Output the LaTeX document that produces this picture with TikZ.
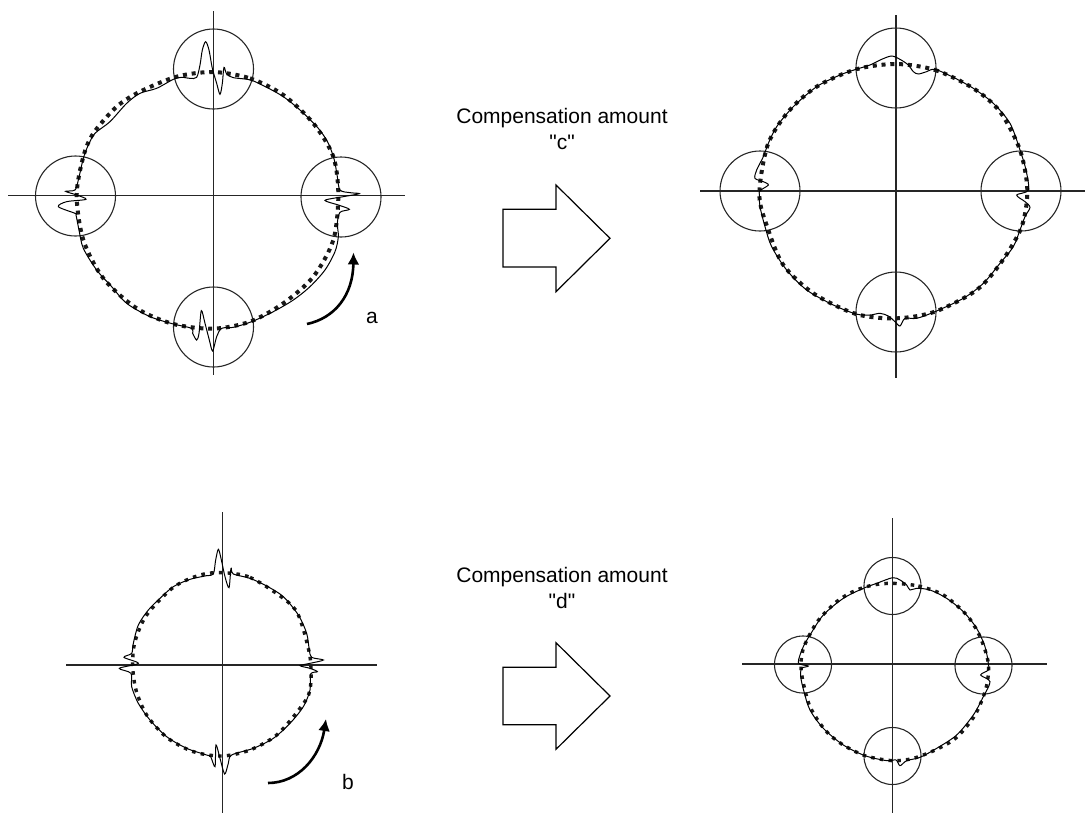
\documentclass[tikz,border=0pt]{standalone}
\usepackage{fontspec}
\newfontfamily\capfont{Liberation Sans}
\usepackage{xcolor}
\usetikzlibrary{arrows.meta}

\begin{document}
\begin{tikzpicture}[
  x=1pt, y=-1pt,
  axisline/.style={line width=1.1pt, black!85},
  lens/.style={draw=black!85, line width=1.1pt},
  refcurve/.style={line width=4pt, black!90, dash pattern=on 4pt off 4.8pt, smooth cycle},
  reflow/.style={refcurve, line width=3.4pt, dash pattern=on 3.6pt off 5.2pt},
  trace/.style={line width=1pt, black, smooth cycle},
  bigarrow/.style={draw=black, line width=1.2pt, line join=miter},
  turn/.style={-{Latex[length=12pt, width=12pt]}, line width=2.6pt, black},
  lbl/.style={font=\capfont\fontsize{21}{26.5}\selectfont, align=center, inner sep=0pt},
  zoomed/.style={x=0.33333pt, y=-0.33333pt}
]
\useasboundingbox (0,0) rectangle (1085,814);

% upper left
\draw[axisline] (8,195.5) -- (405,195.5);
\draw[axisline] (213.5,11) -- (213.5,375);
\foreach \cx/\cy in {213.5/69, 213.5/327, 75.5/196, 341/197}
  \draw[lens] (\cx,\cy) circle [radius=40];
\begin{scope}[shift={(0,0)}, zoomed]
\draw[refcurve] plot coordinates {(640,216)(750,235)(850,285)(940,370)(1000,470)(1015,586)(1000,720)(940,830)(850,910)(750,965)(640,986)(520,972)(410,925)(310,835)(250,720)(230,586)(250,470)(280,400)(350,320)(420,275)(530,230)};
\draw[trace] plot coordinates {(520,238)(545,232)(570,235)(590,232)(600,195)(607,150)(617,125)(627,150)(637,205)(650,250)(660,283)(667,250)(672,202)(680,222)(700,233)(752,240)(800,262)(850,290)(900,330)(955,385)(985,430)(1003,480)(1012,530)(1020,570)(1050,578)(1078,581)(1030,590)(975,601)(1015,615)(1048,628)(1020,637)(1012,670)(1015,710)(1005,755)(975,810)(930,860)(880,900)(820,935)(755,965)(700,982)(665,985)(650,1010)(638,1053)(628,1020)(615,970)(604,932)(597,1000)(590,1020)(578,1000)(575,985)(520,972)(450,950)(380,910)(335,860)(290,810)(250,745)(237,690)(228,645)(225,640)(175,620)(200,605)(258,598)(230,585)(197,574)(225,570)(235,540)(250,475)(265,435)(285,400)(330,365)(380,310)(420,280)(470,265)};
\end{scope}
\coordinate (astart) at (307,324);
\coordinate (aend) at (353.5,252.5);
\draw[turn] (astart) .. controls (335,318) and (353,295) .. (aend);
\node[lbl] (alabel) at (372,318) {a};

% upper right
\draw[axisline] (700,191) -- (1085,191);
\draw[axisline] (896,15) -- (896,378);
\foreach \cx/\cy in {896/68, 896/312, 760/191, 1021/191}
  \draw[lens] (\cx,\cy) circle [radius=40];
\begin{scope}[shift={(700,0)}, zoomed]
\draw[refcurve] plot coordinates {(588,192)(705,210)(820,265)(900,335)(960,450)(982,570)(965,680)(905,785)(830,870)(705,935)(588,955)(468,942)(340,880)(250,795)(205,690)(178,585)(203,435)(265,335)(350,260)(468,208)};
\draw[trace] plot coordinates {(468,208)(510,195)(545,178)(575,168)(600,178)(625,195)(640,215)(655,222)(680,215)(705,208)(760,232)(820,265)(880,310)(930,370)(960,450)(978,510)(985,570)(950,585)(975,605)(990,622)(975,650)(960,690)(940,740)(900,790)(850,850)(790,895)(705,935)(650,955)(615,955)(600,978)(585,965)(565,948)(540,940)(510,945)(468,942)(400,915)(320,870)(260,810)(215,740)(195,680)(180,620)(178,585)(180,572)(205,555)(190,545)(165,535)(170,510)(190,470)(205,430)(230,380)(280,320)(350,260)(420,225)};
\end{scope}

% lower left
\draw[axisline] (66,665) -- (377,665);
\draw[axisline] (222.5,512) -- (222.5,813);
\begin{scope}[shift={(50,500)}, zoomed]
\draw[reflow] plot coordinates {(517,218)(600,232)(700,295)(745,345)(780,470)(780,570)(750,625)(680,705)(600,750)(517,768)(430,755)(350,712)(290,645)(258,570)(248,495)(255,425)(290,345)(370,262)(450,225)};
\draw[trace] plot coordinates {(250,430)(265,375)(295,330)(330,295)(370,260)(420,238)(470,227)(490,222)(497,180)(505,148)(513,175)(525,230)(537,263)(543,205)(550,222)(600,235)(650,258)(700,290)(745,345)(770,400)(778,450)(785,472)(820,480)(780,490)(750,497)(780,505)(802,515)(782,522)(780,570)(760,620)(720,670)(670,715)(610,745)(545,765)(535,790)(524,822)(510,775)(498,735)(495,800)(482,770)(470,765)(410,745)(350,710)(300,660)(265,610)(245,560)(243,520)(208,505)(265,490)(222,472)(245,460)};
\end{scope}
\coordinate (bstart) at (268,783);
\coordinate (bend) at (326,719);
\draw[turn] (bstart) .. controls (298,783) and (320,757) .. (bend);
\node[lbl] (blabel) at (348,782) {b};

% lower right
\draw[axisline] (742,664) -- (1047,664);
\draw[axisline] (892.5,518) -- (892.5,813);
\foreach \cx/\cy in {892.5/586, 892.5/756, 803/664.5, 983.5/665.5}
  \draw[lens] (\cx,\cy) circle [radius=28.5];
\begin{scope}[shift={(730,500)}, zoomed]
\draw[reflow] plot coordinates {(487,250)(565,258)(640,285)(710,345)(750,410)(775,490)(768,565)(735,645)(680,712)(620,748)(550,775)(487,782)(405,767)(335,732)(285,690)(240,620)(218,540)(213,490)(222,440)(262,365)(320,305)(375,272)(430,255)};
\draw[trace] plot coordinates {(400,265)(440,250)(488,233)(510,240)(530,255)(540,270)(560,265)(600,270)(650,295)(700,335)(740,385)(765,440)(775,490)(775,510)(752,525)(780,545)(760,590)(730,645)(680,705)(620,745)(570,772)(530,782)(510,797)(498,780)(470,782)(405,767)(340,735)(280,685)(240,630)(222,575)(212,530)(215,505)(235,498)(205,488)(220,440)(240,405)(280,345)(340,295)};
\end{scope}

% compensation arrows and captions
\draw[bigarrow] (503,209.3) -- (556,209.3) -- (556,185) -- (610,238.3)
  -- (556,291.7) -- (556,267) -- (503,267) -- cycle;
\node[lbl] (camount) at (562,129) {Compensation amount\\"c"};
\draw[bigarrow] (503,667.3) -- (556,667.3) -- (556,642.7) -- (610,696)
  -- (556,749.3) -- (556,724.7) -- (503,724.7) -- cycle;
\node[lbl] (damount) at (562,588) {Compensation amount\\"d"};
\end{tikzpicture}
\end{document}
